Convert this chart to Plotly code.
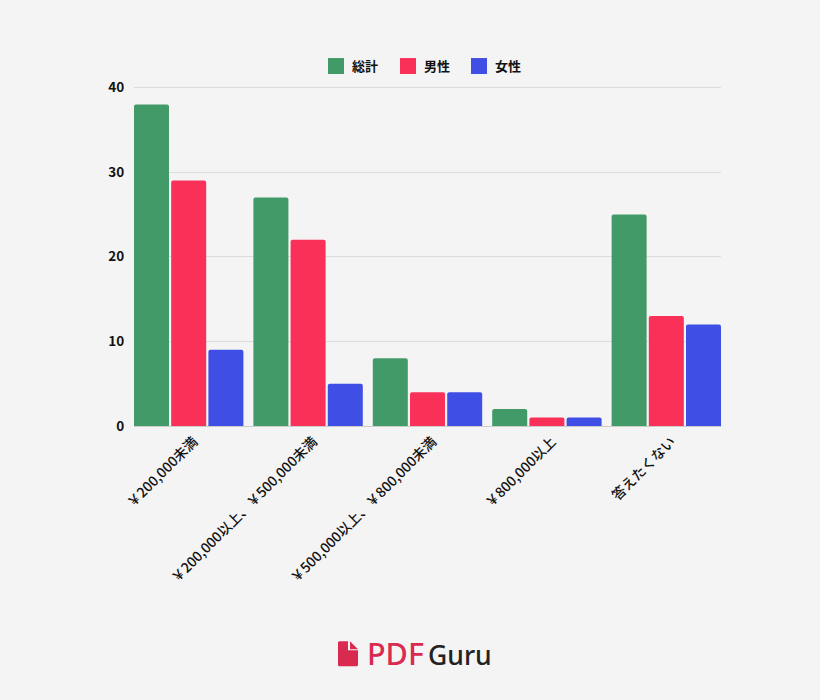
import plotly.graph_objects as go

categories = ["\uffe5200,000未満", "\uffe5200,000以上、\uffe5500,000未満", "\uffe5500,000以上、\uffe5800,000未満", "\uffe5800,000以上", "答えたくない"]
total = [38, 27, 8, 2, 25]
male = [29, 22, 4, 1, 13]
female = [9, 5, 4, 1, 12]
series_names = ["総計", "男性", "女性"]
colors = ["#439A69", "#F93158", "#3F4FE5"]
FONT = "Noto Sans CJK JP"

fig = go.Figure()
for name, vals, c in zip(series_names, [total, male, female], colors):
    fig.add_bar(name=name, x=categories, y=vals, marker=dict(color=c, cornerradius=2, line_width=0), showlegend=False)

fig.update_layout(
    width=820, height=700, autosize=False,
    margin=dict(l=134, r=99, t=85, b=273.5, pad=0),
    paper_bgcolor="#F4F4F4", plot_bgcolor="#F4F4F4",
    barmode="group", bargap=0.0654, bargroupgap=0.059,
    font=dict(family=FONT, color="#111111", size=12),
)
fig.update_xaxes(type="category", range=[-0.458, 4.458], tickangle=-45, showgrid=False, showline=False,
                 ticks="", tickfont=dict(size=13.8, family=FONT, weight=500), automargin=False, fixedrange=True,
                 ticklabelstandoff=4, ticklabelshift=5)
fig.update_yaxes(range=[0, 40.295], tickvals=[0, 10, 20, 30, 40], gridcolor="#DCDCDC", gridwidth=1, zeroline=True,
                 zerolinecolor="#CCCCCC", zerolinewidth=1, ticks="outside", ticklen=6, tickcolor="rgba(0,0,0,0)",
                 tickfont=dict(size=13.5, family=FONT, weight=700), automargin=False, fixedrange=True)

def X(p):
    return (p - 134) / 587
def Y(p):
    return (426.5 - p) / 341.5

# legend
for name, c, x0 in zip(series_names, colors, [328, 400, 471]):
    fig.add_shape(type="rect", xref="paper", yref="paper", x0=X(x0), x1=X(x0 + 16),
                  y0=Y(74), y1=Y(58), fillcolor=c, line_width=0)
    fig.add_annotation(text=name, xref="paper", yref="paper", x=X(x0 + 22), y=Y(65.5), xanchor="left",
                       yanchor="middle", showarrow=False, font=dict(size=13, family=FONT, weight=700, color="#111111"))

# logo
logo_body = [(338, 643), (339, 642), (348, 642), (348, 651), (358, 651), (358, 666), (357, 667), (339, 667), (338, 666)]
logo_fold = [(350, 642), (358, 650), (350, 650)]
for poly in (logo_body, logo_fold):
    d = "M " + " L ".join(f"{X(a)} {Y(b)}" for a, b in poly) + " Z"
    fig.add_shape(type="path", xref="paper", yref="paper", path=d, fillcolor="#D92B50", line_width=0)
fig.add_annotation(text="PDF", xref="paper", yref="paper", x=X(365), y=Y(654), xanchor="left", yanchor="middle",
                   showarrow=False, font=dict(size=30.5, family="Noto Sans", weight=500, color="#D92B50"))
fig.add_annotation(text="Guru", xref="paper", yref="paper", x=X(426), y=Y(655.5), xanchor="left", yanchor="middle",
                   showarrow=False, font=dict(size=26.5, family="Noto Sans", weight=500, color="#222222"))

fig.write_html("out.html", config={"displayModeBar": False},
               post_script="document.body.style.margin='0';document.body.style.overflow='hidden';")
